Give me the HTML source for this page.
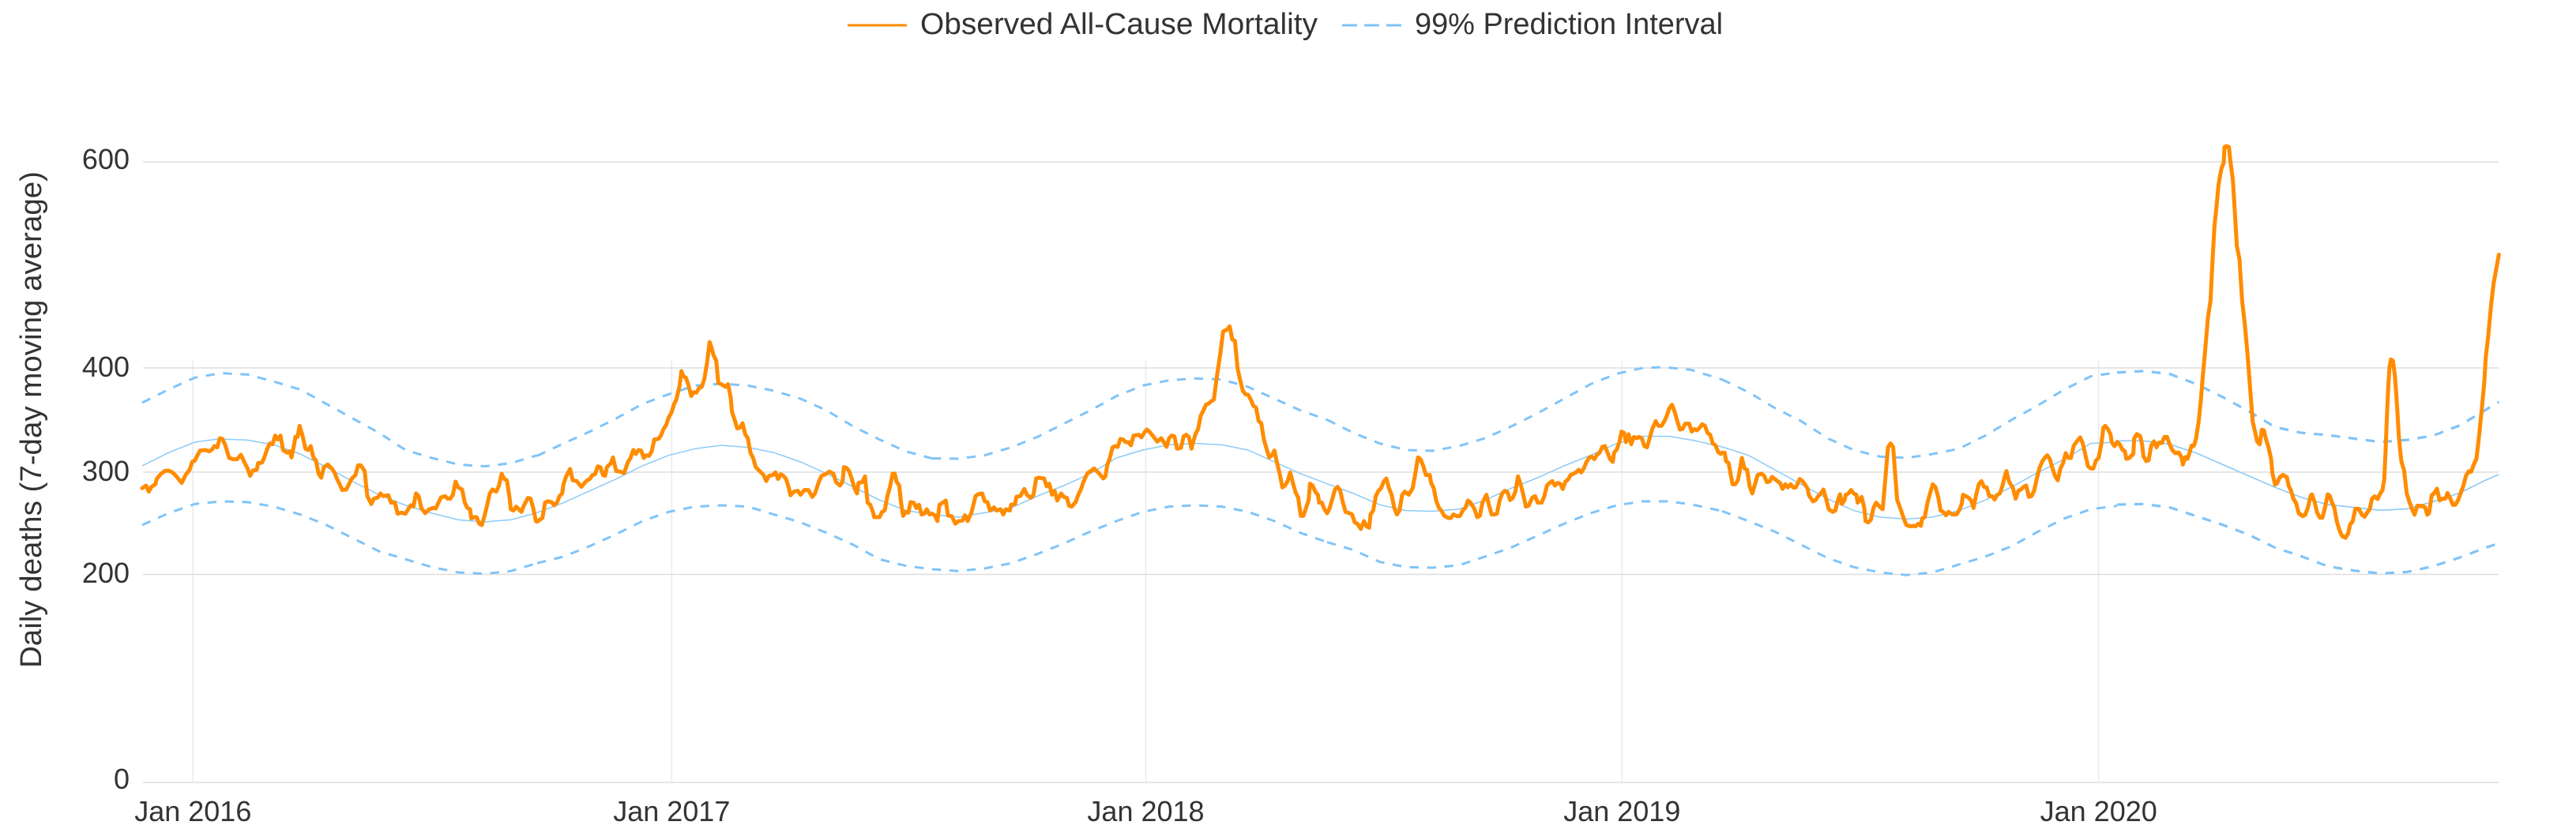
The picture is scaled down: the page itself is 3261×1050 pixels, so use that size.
<!DOCTYPE html>
<html><head><meta charset="utf-8"><style>
html,body{margin:0;padding:0;background:#fff;width:3261px;height:1050px;overflow:hidden}
svg{display:block}
text{font-family:"Liberation Sans",Arial,sans-serif;fill:#333}
</style></head><body>
<svg width="3261" height="1050" viewBox="0 0 3261 1050" xmlns="http://www.w3.org/2000/svg">
<!-- vertical gridlines -->
<g stroke="#ebebeb" stroke-width="1.5">
<line x1="244.3" y1="455" x2="244.3" y2="990"/>
<line x1="850.3" y1="455" x2="850.3" y2="990"/>
<line x1="1450.5" y1="455" x2="1450.5" y2="990"/>
<line x1="2053.3" y1="455" x2="2053.3" y2="990"/>
<line x1="2656.7" y1="455" x2="2656.7" y2="990"/>
</g>
<!-- horizontal gridlines -->
<g stroke="#dedede" stroke-width="1.6">
<line x1="181" y1="205" x2="3163" y2="205"/>
<line x1="181" y1="466" x2="3163" y2="466"/>
<line x1="181" y1="598" x2="3163" y2="598"/>
<line x1="181" y1="727.5" x2="3163" y2="727.5"/>
<line x1="181" y1="991" x2="3163" y2="991"/>
</g>
<!-- y tick labels -->
<g font-size="36" text-anchor="end">
<text x="164" y="214">600</text>
<text x="164" y="477">400</text>
<text x="164" y="609">300</text>
<text x="164" y="738">200</text>
<text x="164" y="999">0</text>
</g>
<!-- x tick labels -->
<g font-size="36" text-anchor="middle">
<text x="244.3" y="1040">Jan 2016</text>
<text x="850.3" y="1040">Jan 2017</text>
<text x="1450.5" y="1040">Jan 2018</text>
<text x="2053.3" y="1040">Jan 2019</text>
<text x="2656.7" y="1040">Jan 2020</text>
</g>
<!-- y axis title -->
<text transform="translate(52,531.5) rotate(-90)" text-anchor="middle" font-size="38" textLength="629" lengthAdjust="spacingAndGlyphs">Daily deaths (7-day moving average)</text>
<!-- legend -->
<line x1="1073" y1="32" x2="1148" y2="32" stroke="#ff8c00" stroke-width="3"/>
<text x="1165" y="43" font-size="38" textLength="503" lengthAdjust="spacingAndGlyphs">Observed All-Cause Mortality</text>
<line x1="1699" y1="32" x2="1774" y2="32" stroke="#80c4f8" stroke-width="3" stroke-dasharray="19 9"/>
<text x="1791" y="43" font-size="38" textLength="390" lengthAdjust="spacingAndGlyphs">99% Prediction Interval</text>

<!-- BLUE: upper dashed -->
<g fill="none" stroke="#80c4f8" stroke-width="9" stroke-dasharray="34 32">
<polyline transform="translate(180 380) scale(0.33333)" points="0,390 100,340 200,295 300,278 400,283 500,310 600,340 700,395 800,450 900,505 1000,570 1100,600 1200,625 1300,632 1400,620 1500,590"/>
<polyline transform="translate(680 380) scale(0.33333)" points="0,592 100,545 200,500 300,450 400,395 500,358 600,325 700,318 800,325 900,345 1000,375 1100,420 1200,480 1300,530 1400,575 1500,602"/>
<polyline transform="translate(1180 380) scale(0.33333)" points="0,602 100,603 200,590 300,560 400,520 500,470 600,420 700,365 800,325 900,305 1000,298 1100,302 1200,330 1300,375 1400,420 1500,455"/>
<polyline transform="translate(1680 380) scale(0.33333)" points="0,455 100,505 200,545 300,570 400,573 500,555 600,525 700,480 800,430 900,375 1000,320 1100,280 1200,258 1280,255 1380,265 1500,302"/>
<polyline transform="translate(2180 380) scale(0.33333)" points="0,302 100,350 200,410 300,460 400,525 500,570 600,595 700,600 800,585 900,565 1000,515 1100,455 1200,400 1300,340 1400,290 1500,275"/>
<polyline transform="translate(2680 170) scale(0.33333 0.363636)" points="0,830 100,825 200,835 300,870 400,915 500,965 600,1020 700,1040 800,1048 900,1060 1000,1072 1100,1065 1200,1050 1300,1015 1400,960 1450,932"/>
</g>
<!-- BLUE: lower dashed -->
<g fill="none" stroke="#80c4f8" stroke-width="9" stroke-dasharray="34 32">
<polyline transform="translate(180 380) scale(0.33333)" points="0,855 100,810 200,775 300,765 400,768 500,785 600,815 700,855 800,905 900,955 1000,985 1100,1015 1200,1035 1300,1040 1400,1030 1500,1000"/>
<polyline transform="translate(680 380) scale(0.33333)" points="0,1000 100,975 200,935 300,890 400,840 500,805 600,785 700,780 800,785 900,815 1000,845 1100,885 1200,930 1300,985 1400,1010 1500,1023"/>
<polyline transform="translate(1180 380) scale(0.33333)" points="0,1023 100,1030 200,1020 300,1000 400,965 500,925 600,880 700,840 800,805 900,785 1000,780 1100,785 1200,805 1300,840 1400,885 1500,920"/>
<polyline transform="translate(1680 380) scale(0.33333)" points="0,920 100,950 200,995 300,1015 400,1017 500,1008 600,975 700,940 800,895 900,850 1000,810 1100,780 1200,765 1300,765 1400,780 1500,802"/>
<polyline transform="translate(2180 380) scale(0.33333)" points="0,802 100,840 200,880 300,930 400,980 500,1015 600,1035 700,1045 800,1035 900,1005 1000,975 1100,935 1200,880 1300,830 1400,795 1500,782"/>
<polyline transform="translate(2680 170) scale(0.33333 0.363636)" points="0,1290 100,1288 200,1300 300,1330 400,1360 500,1395 600,1440 700,1470 800,1505 900,1520 1000,1530 1100,1525 1200,1505 1300,1475 1400,1440 1450,1425"/>
</g>
<!-- BLUE: center thin -->
<g fill="none" stroke="#8ccbf8" stroke-width="4.5">
<polyline transform="translate(180 380) scale(0.33333)" points="0,630 100,580 200,540 290,528 400,532 500,550 600,585 700,635 800,690 900,740 1000,780 1100,810 1200,835 1300,843 1400,835 1500,808"/>
<polyline transform="translate(680 380) scale(0.33333)" points="0,808 100,770 200,725 300,680 400,630 500,590 600,565 700,552 800,560 900,580 1000,615 1100,660 1200,710 1300,760 1400,800 1500,815"/>
<polyline transform="translate(1180 380) scale(0.33333)" points="0,815 100,825 200,808 300,790 400,745 500,705 600,660 700,600 800,570 900,550 1000,545 1100,550 1200,570 1300,615 1400,660 1500,698"/>
<polyline transform="translate(1680 380) scale(0.33333)" points="0,698 100,735 200,778 300,800 400,803 500,795 600,760 700,715 800,675 900,630 1000,590 1100,545 1200,518 1300,518 1400,535 1500,558"/>
<polyline transform="translate(2180 380) scale(0.33333)" points="0,558 100,590 200,645 300,700 400,755 500,800 600,825 700,832 800,825 900,800 1000,760 1100,710 1200,655 1300,605 1400,545 1500,540"/>
<polyline transform="translate(2680 170) scale(0.33333 0.363636)" points="0,1068 100,1068 200,1080 300,1110 400,1150 500,1190 600,1230 700,1265 800,1290 900,1300 1000,1310 1100,1305 1200,1280 1300,1250 1400,1205 1450,1185"/>
</g>

<!-- ORANGE observed -->
<g fill="none" stroke="#ff8c00" stroke-width="15" stroke-linejoin="round" stroke-linecap="round">
<polyline transform="translate(180 380) scale(0.33333)" points="0,715 15,705 25,728 35,710 50,700 55,680 70,662 85,650 100,648 115,655 130,670 150,695 165,665 180,645 190,615 200,610 210,590 220,572 240,570 255,575 265,568 275,555 285,560 295,525 305,528 315,550 330,600 345,605 360,605 375,588 385,610 400,640 410,668 420,648 435,645 440,620 455,618 465,595 475,565 485,545 495,548 505,515 515,530 525,515 535,570 550,580 560,575 567,598 575,560 582,520 590,520 598,478 610,520 620,565 630,570 640,555 650,598 660,610 670,660 680,675 690,635 705,625 720,640 730,655 740,680 750,700 760,722 775,720 785,700 795,680 810,665 820,628 830,628 845,650 850,700 855,745 870,775 880,755 895,750 905,735 915,745 935,742 945,770 960,770 970,812 985,808 1000,812 1010,795 1020,780 1030,785 1040,735 1050,745 1060,790 1075,810 1090,795 1105,790 1115,792 1125,770 1135,750 1150,745 1160,755 1170,755 1180,740 1190,690 1200,712 1215,720 1225,770 1235,790 1245,795 1250,830 1260,825 1270,825 1280,850 1290,855 1300,820 1310,780 1320,735 1330,720 1345,728 1355,705 1365,660 1375,680 1385,685 1395,750 1400,795 1410,800 1420,785 1430,795 1440,805 1450,780 1465,752 1475,755 1485,790 1495,840 1500,842"/>
<polyline transform="translate(680 380) scale(0.33333)" points="0,842 10,835 20,828 30,770 40,765 55,768 65,780 75,770 85,745 95,735 100,700 110,670 125,642 135,685 150,688 168,710 180,695 190,685 200,680 210,665 220,662 230,632 240,635 250,665 258,668 265,635 280,620 288,598 300,650 315,652 330,658 345,615 355,600 365,570 375,585 385,570 395,572 405,600 415,590 425,592 435,575 445,530 460,528 470,515 480,490 490,475 500,445 510,428 520,395 528,380 540,330 548,270 555,290 565,295 575,325 585,365 595,350 605,352 615,335 625,330 635,300 645,240 655,160 662,180 670,210 680,230 688,315 700,320 715,330 725,320 735,370 740,425 750,455 760,488 770,485 780,468 790,510 800,525 810,580 820,600 830,635 845,650 860,665 870,688 880,668 895,665 905,655 915,680 925,662 935,668 945,680 955,710 962,742 975,728 990,725 1000,740 1015,722 1030,722 1045,748 1055,735 1070,690 1080,668 1095,662 1110,652 1125,660 1135,692 1150,705 1160,690 1165,635 1175,638 1185,650 1195,680 1205,715 1215,735 1220,695 1235,692 1245,670 1255,770 1265,778 1275,805 1280,825 1300,825 1310,805 1320,800 1330,745 1340,710 1350,660 1358,660 1365,690 1375,705 1382,770 1390,820 1400,805 1410,808 1418,768 1430,770 1440,790 1450,778 1460,815 1470,812 1480,795 1490,815 1500,812"/>
<polyline transform="translate(1180 380) scale(0.33333)" points="0,812 10,818 20,840 28,778 40,770 52,762 60,818 75,822 88,850 100,840 115,838 125,818 135,840 150,805 165,745 175,738 190,735 200,765 210,768 220,800 235,788 245,800 260,795 270,815 280,795 295,800 300,778 315,775 320,748 335,745 350,718 360,740 375,752 385,740 395,678 405,675 425,678 435,708 445,698 455,740 465,725 475,762 490,735 500,748 512,752 520,782 530,785 545,768 555,740 565,720 575,690 590,658 605,648 615,640 625,650 635,660 650,678 658,670 665,628 675,600 685,560 695,555 705,558 715,528 725,530 735,540 745,540 755,552 765,515 785,512 795,522 805,505 815,492 825,500 835,512 845,525 855,538 870,525 880,540 890,558 900,525 910,515 920,518 930,565 945,562 955,518 965,512 975,520 985,565 990,545 1000,510 1010,490 1020,440 1030,420 1040,398 1050,393 1060,385 1070,378 1080,300 1095,200 1105,120 1120,112 1130,100 1140,150 1150,155 1160,260 1170,305 1180,345 1190,358 1200,360 1210,378 1220,402 1230,408 1240,460 1250,468 1260,530 1270,565 1280,598 1290,590 1300,572 1310,620 1320,660 1330,712 1340,705 1350,688 1360,655 1370,695 1380,730 1390,750 1400,820 1410,820 1420,790 1430,760 1435,698 1445,705 1455,728 1465,740 1470,770 1480,770 1490,795 1500,810"/>
<polyline transform="translate(1680 380) scale(0.33333)" points="0,810 10,790 20,755 30,720 40,710 50,725 60,770 70,805 85,810 95,815 105,845 115,850 128,870 140,840 150,860 160,865 165,815 175,800 185,745 195,725 205,715 215,690 225,678 235,715 245,740 255,790 265,815 275,800 285,740 295,728 310,740 325,715 335,660 345,598 355,605 365,630 375,665 390,665 395,695 405,715 415,765 425,790 435,802 445,820 460,828 470,828 480,815 495,822 505,820 515,800 525,790 535,762 545,770 560,795 570,825 580,820 590,770 600,750 605,740 615,780 625,815 635,815 645,812 655,762 665,735 675,725 685,730 695,760 705,752 715,728 725,670 735,700 745,740 755,785 765,782 780,750 790,745 800,770 815,770 825,745 835,705 845,695 855,688 865,705 875,695 885,698 895,718 905,690 915,682 925,665 935,660 945,655 955,645 965,655 975,640 985,615 995,600 1005,595 1015,605 1025,588 1035,580 1045,558 1055,555 1065,580 1075,605 1085,615 1090,580 1100,568 1110,540 1118,500 1128,505 1135,540 1145,510 1155,548 1165,520 1175,525 1185,520 1195,525 1205,555 1215,560 1225,525 1235,490 1248,460 1258,478 1270,478 1280,462 1290,440 1300,410 1310,398 1320,425 1330,460 1340,492 1350,490 1360,470 1375,470 1385,500 1395,490 1405,495 1415,485 1425,472 1435,478 1445,505 1455,512 1465,545 1475,552 1485,578 1495,585 1500,580"/>
<polyline transform="translate(2180 380) scale(0.33333)" points="0,580 10,580 15,612 25,620 35,675 40,700 50,700 60,685 65,660 75,600 85,640 95,645 105,710 115,735 125,700 135,665 150,660 160,668 170,692 180,690 190,672 200,680 210,688 220,695 230,718 240,700 250,712 260,700 270,712 280,712 295,680 305,688 315,700 325,718 330,742 345,765 355,760 365,745 375,735 385,720 395,755 405,795 420,805 430,800 440,760 448,738 455,775 465,760 470,740 480,735 490,722 500,735 510,740 515,770 530,748 540,790 545,840 555,845 565,835 575,790 585,770 598,785 610,795 620,680 630,560 640,545 650,560 655,630 665,760 680,800 690,830 700,855 715,860 725,858 735,860 745,850 755,858 760,830 770,825 780,770 790,735 800,700 810,710 820,745 830,800 840,805 850,818 860,805 875,815 890,815 900,800 910,775 915,740 925,745 935,750 945,760 955,790 965,740 975,700 985,688 995,710 1005,712 1015,745 1025,745 1035,758 1045,740 1055,735 1065,705 1075,665 1080,650 1090,690 1105,715 1115,755 1125,725 1135,720 1145,710 1155,705 1165,748 1175,745 1185,725 1195,680 1205,640 1215,615 1225,600 1235,590 1245,605 1255,640 1265,670 1275,685 1285,640 1295,620 1305,582 1315,600 1325,600 1335,555 1345,540 1360,522 1370,545 1380,590 1390,632 1400,640 1410,640 1420,610 1430,600 1440,550 1448,485 1455,478 1465,490 1475,510 1480,540 1490,555 1500,545"/>
<polyline transform="translate(2680 170) scale(0.33333 0.363636)" points="0,1072 10,1080 20,1098 30,1105 35,1130 45,1128 55,1120 62,1112 65,1060 75,1045 88,1052 95,1080 100,1120 110,1138 120,1135 130,1085 140,1070 150,1090 158,1075 170,1075 180,1055 190,1055 200,1080 210,1100 220,1110 235,1110 245,1125 250,1150 260,1125 268,1130 275,1110 283,1085 292,1085 300,1060 310,1000 318,930 325,850 335,750 345,640 355,580 362,450 370,320 378,250 385,180 392,140 398,115 405,100 408,45 415,42 425,45 430,90 440,160 448,280 455,390 465,435 475,580 485,660 495,760 505,880 515,1000 525,1040 532,1070 542,1080 550,1030 558,1032 565,1060 575,1090 585,1130 590,1180 600,1220 608,1215 618,1195 630,1187 645,1195 652,1225 660,1240 670,1270 680,1285 690,1320 705,1330 715,1325 725,1300 735,1260 740,1255 750,1280 760,1318 770,1335 780,1335 790,1300 800,1255 808,1260 815,1280 825,1300 835,1350 845,1380 855,1400 868,1405 878,1390 885,1360 895,1348 905,1305 918,1305 930,1325 940,1332 950,1318 960,1305 968,1270 978,1262 990,1270 1000,1250 1008,1240 1015,1200 1020,1100 1025,980 1030,880 1035,810 1040,785 1048,790 1055,840 1060,900 1065,970 1070,1050 1075,1100 1080,1140 1090,1170 1100,1250 1110,1280 1120,1305 1130,1325 1140,1295 1150,1295 1160,1295 1170,1300 1178,1325 1185,1320 1195,1258 1205,1250 1215,1235 1225,1275 1235,1270 1248,1268 1255,1250 1265,1268 1275,1290 1285,1290 1295,1275 1305,1250 1315,1225 1325,1190 1335,1175 1345,1175 1355,1150 1365,1130 1375,1050 1385,960 1395,860 1400,780 1410,700 1420,600 1430,520 1440,470 1450,420"/>
</g>
</svg>
</body></html>
